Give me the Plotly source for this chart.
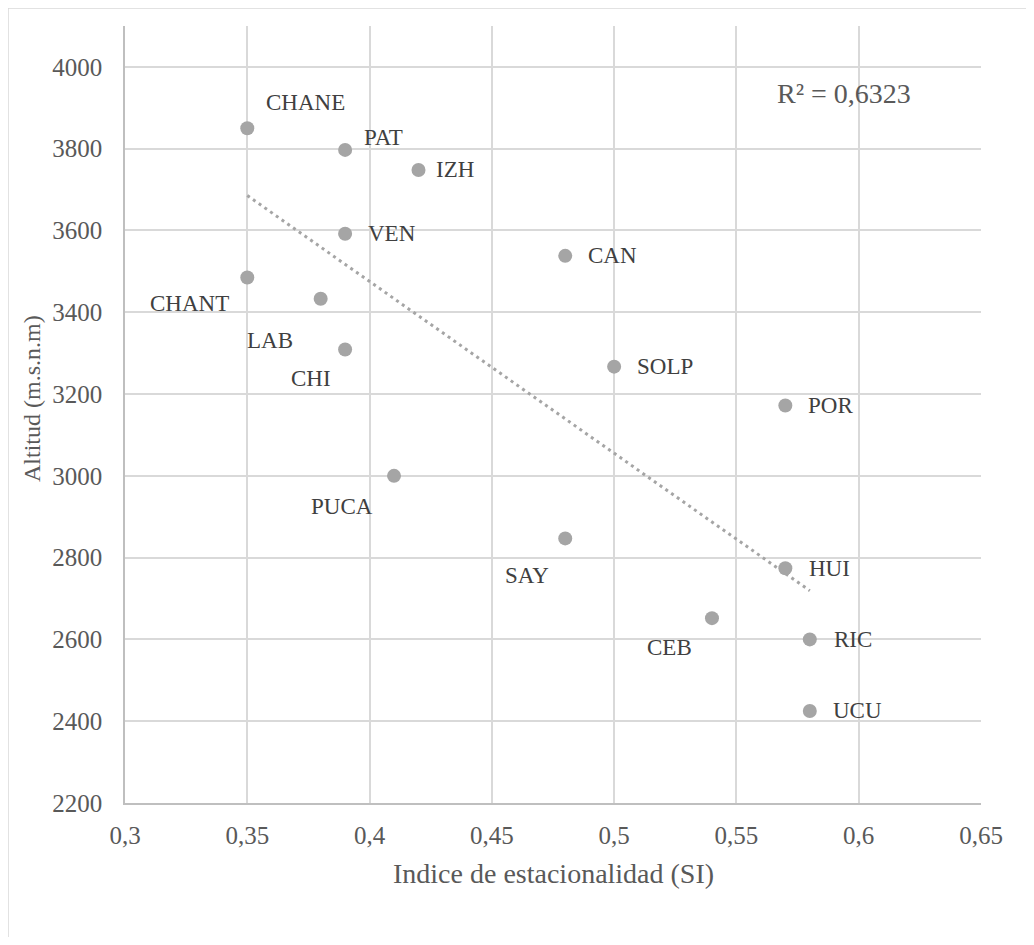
import numpy as np
import plotly.graph_objects as go

# ---- data ----
stations = ["CHANE", "PAT", "IZH", "VEN", "CAN", "CHANT", "LAB", "CHI",
            "SOLP", "POR", "PUCA", "SAY", "HUI", "CEB", "RIC", "UCU"]
si = [0.35, 0.39, 0.42, 0.39, 0.48, 0.35, 0.38, 0.39,
      0.50, 0.57, 0.41, 0.48, 0.57, 0.54, 0.58, 0.58]
altitud = [3850, 3797, 3748, 3592, 3538, 3485, 3433, 3309,
           3267, 3172, 3000, 2847, 2774, 2652, 2600, 2425]
x_tickvals = [0.3, 0.35, 0.4, 0.45, 0.5, 0.55, 0.6, 0.65]
x_ticktext = ["0,3", "0,35", "0,4", "0,45", "0,5", "0,55", "0,6", "0,65"]
y_tickvals = [2200, 2400, 2600, 2800, 3000, 3200, 3400, 3600, 3800, 4000]
r2_text = "R² = 0,6323"

# ---- label placement (screen pixel offsets, style only) ----
label_offsets = {
    "CHANE": (58, -26), "PAT": (38, -12), "IZH": (37, 0), "VEN": (47, 0),
    "CAN": (47, 0), "CHANT": (-58, 26), "LAB": (-51, 42), "CHI": (-34, 29),
    "SOLP": (51, 0), "POR": (45, 0), "PUCA": (-52, 31), "SAY": (-38, 37),
    "HUI": (44, 0), "CEB": (-42, 29), "RIC": (43, 0), "UCU": (48, 0),
}

FONT = "Liberation Serif, Times New Roman, serif"
OFF = 8  # page body margin
W, H = 1018, 929
L, T = 117, 18
R = W - (981 - OFF)
B = H - (803 - OFF)

fig = go.Figure()

# trendline (linear least squares)
slope, intercept = np.polyfit(si, altitud, 1)
tx = np.array([min(si), max(si)])
fig.add_trace(go.Scatter(
    x=tx, y=slope * tx + intercept, mode="lines",
    line=dict(color="#a5a5a5", width=3, dash="3px,4px"),
    hoverinfo="skip", showlegend=False))

fig.add_trace(go.Scatter(
    x=si, y=altitud, mode="markers",
    marker=dict(color="#a5a5a5", size=14, line=dict(width=0)),
    text=stations, showlegend=False))

annotations = []
for name, xv, yv in zip(stations, si, altitud):
    dx, dy = label_offsets[name]
    annotations.append(dict(
        x=xv, y=yv, xref="x", yref="y", text=name, showarrow=False,
        xshift=dx, yshift=-dy, xanchor="center", yanchor="middle",
        font=dict(family=FONT, size=23, color="#404040")))

annotations.append(dict(
    x=0.594, y=3935, xref="x", yref="y", text=r2_text, showarrow=False,
    xanchor="center", yanchor="middle",
    font=dict(family=FONT, size=28, color="#595959")))

pw = W - L - R
ph = H - T - B
def px(xp):
    return (xp - OFF - L) / pw
def py(yp):
    return (H - B - (yp - OFF)) / ph

annotations.append(dict(
    x=px(553), y=py(873), xref="paper", yref="paper",
    text="Indice de estacionalidad (SI)", showarrow=False,
    xanchor="center", yanchor="middle",
    font=dict(family=FONT, size=28, color="#595959")))
annotations.append(dict(
    x=px(32), y=py(399), xref="paper", yref="paper",
    text="Altitud (m.s.n.m)", showarrow=False, textangle=-90,
    xanchor="center", yanchor="middle",
    font=dict(family=FONT, size=24, color="#595959")))

# outer chart border (top and left edges visible)
shapes = [
    dict(type="line", xref="paper", yref="paper",
         x0=px(8), x1=px(1040), y0=py(8), y1=py(8),
         line=dict(color="#d9d9d9", width=1.5), layer="below"),
    dict(type="line", xref="paper", yref="paper",
         x0=px(8), x1=px(8), y0=py(8), y1=py(960),
         line=dict(color="#d9d9d9", width=1.5), layer="below"),
]

fig.update_layout(
    width=W, height=H,
    margin=dict(l=L, r=R, t=T, b=B),
    paper_bgcolor="white", plot_bgcolor="white",
    font=dict(family=FONT, size=25, color="#595959"),
    annotations=annotations, shapes=shapes,
    xaxis=dict(range=[0.3, 0.65], tickvals=x_tickvals, ticktext=x_ticktext,
               showgrid=True, gridcolor="#d9d9d9", gridwidth=1.5,
               zeroline=False, showline=True, linecolor="#bfbfbf",
               linewidth=1.5, mirror=False, ticks="", ticklabelstandoff=9,
               tickfont=dict(family=FONT, size=25, color="#595959")),
    yaxis=dict(range=[2200, 4100], tickvals=y_tickvals,
               showgrid=True, gridcolor="#d9d9d9", gridwidth=1.5,
               zeroline=False, showline=True, linecolor="#bfbfbf",
               linewidth=1.5, ticks="", ticklabelstandoff=16,
               tickfont=dict(family=FONT, size=25, color="#595959")),
    showlegend=False,
)

fig.write_html("out.html")
